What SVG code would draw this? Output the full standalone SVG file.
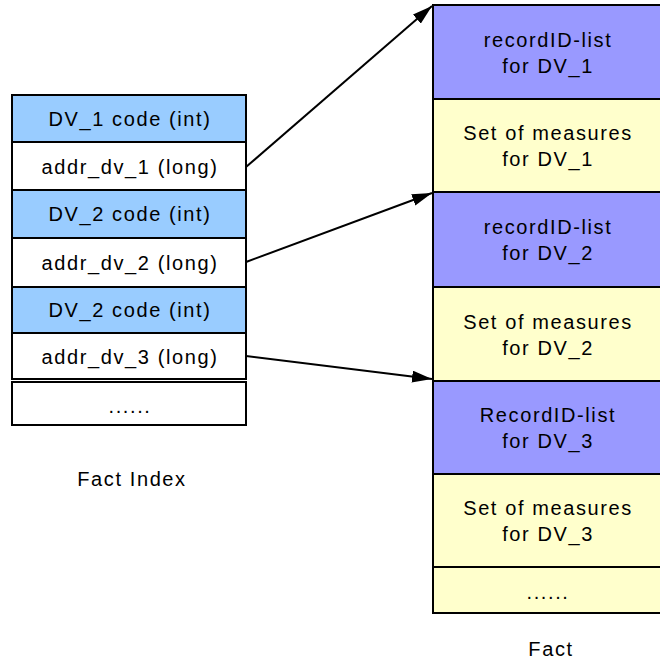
<svg xmlns="http://www.w3.org/2000/svg" width="660" height="662" viewBox="0 0 660 662">
<defs>
<style>
text{font-family:"Liberation Sans",Arial,sans-serif;font-size:20px;letter-spacing:1.6px;fill:#000;text-anchor:middle}
rect{stroke:#000;stroke-width:2}
.b{fill:#99CCFF}.w{fill:#fff}.p{fill:#9999FF}.y{fill:#FFFFCC}
.c{stroke:#000;stroke-width:2;fill:none;marker-end:url(#ah)}
</style>
<marker id="ah" viewBox="0 0 10 10" refX="10" refY="5" markerWidth="20" markerHeight="12" markerUnits="userSpaceOnUse" orient="auto" preserveAspectRatio="none"><path d="M0,0L10,5L0,10z" fill="#000"/></marker>
</defs>
<g id="fact-index">
<g id="i1"><rect class="b" x="12" y="95" width="234" height="47"/><text x="130" y="126">DV_1 code (int)</text></g>
<g id="i2"><rect class="w" x="12" y="142" width="234" height="48"/><text x="130" y="174">addr_dv_1 (long)</text></g>
<g id="i3"><rect class="b" x="12" y="190" width="234" height="48"/><text x="130" y="221">DV_2 code (int)</text></g>
<g id="i4"><rect class="w" x="12" y="238" width="234" height="49"/><text x="130" y="270">addr_dv_2 (long)</text></g>
<g id="i5"><rect class="b" x="12" y="287" width="234" height="46"/><text x="130" y="317">DV_2 code (int)</text></g>
<g id="i6"><rect class="w" x="12" y="333" width="234" height="46"/><text x="130" y="364">addr_dv_3 (long)</text></g>
<g id="i7"><rect class="w" x="12" y="382" width="234" height="43"/><text x="130" y="413">......</text></g>
<text x="132" y="486">Fact Index</text>
</g>
<g id="fact">
<g id="f1"><rect class="p" x="433" y="5" width="230" height="94"/><text x="548" y="47">recordID-list</text><text x="548" y="73">for DV_1</text></g>
<g id="f2"><rect class="y" x="433" y="99" width="230" height="93"/><text x="548" y="140">Set of measures</text><text x="548" y="166">for DV_1</text></g>
<g id="f3"><rect class="p" x="433" y="192" width="230" height="95"/><text x="548" y="234">recordID-list</text><text x="548" y="260">for DV_2</text></g>
<g id="f4"><rect class="y" x="433" y="287" width="230" height="94"/><text x="548" y="329">Set of measures</text><text x="548" y="355">for DV_2</text></g>
<g id="f5"><rect class="p" x="433" y="381" width="230" height="93"/><text x="548" y="422">RecordID-list</text><text x="548" y="448">for DV_3</text></g>
<g id="f6"><rect class="y" x="433" y="474" width="230" height="93"/><text x="548" y="515">Set of measures</text><text x="548" y="541">for DV_3</text></g>
<g id="f7"><rect class="y" x="433" y="567" width="230" height="46"/><text x="548" y="599">......</text></g>
<text x="551" y="656">Fact</text>
</g>
<g id="connectors">
<line class="c" x1="246" y1="167" x2="432" y2="6"/>
<line class="c" x1="246" y1="262" x2="432" y2="193"/>
<line class="c" x1="246" y1="356" x2="432" y2="379"/>
</g>
</svg>
